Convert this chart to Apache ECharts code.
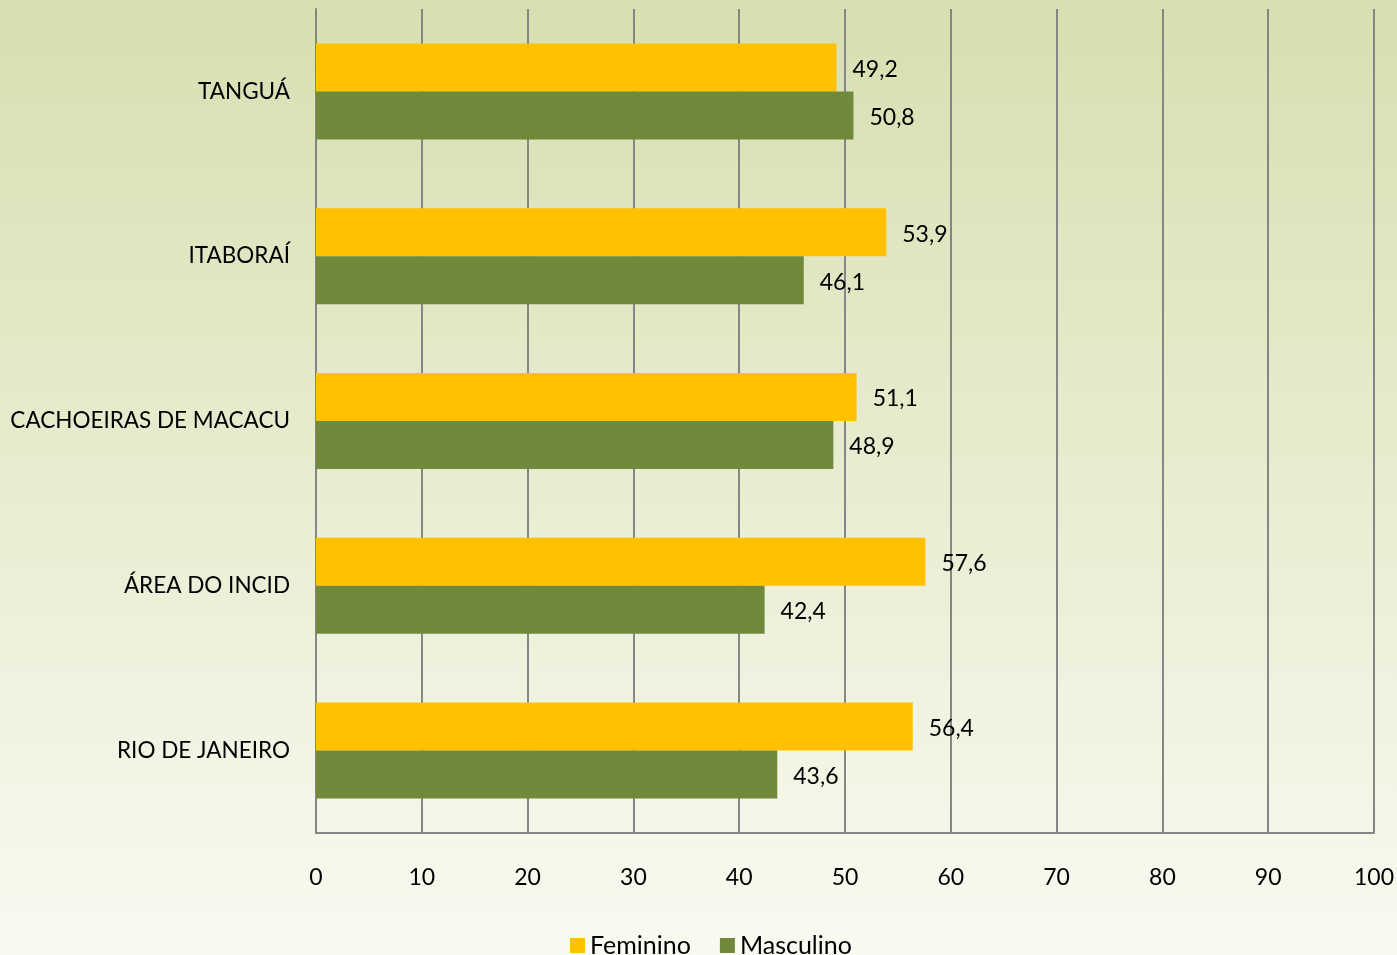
<!DOCTYPE html>
<html>
<head>
<meta charset="utf-8">
<script src="https://cdn.jsdelivr.net/npm/echarts@6/dist/echarts.min.js"></script>
<style>
  html, body { margin: 0; padding: 0; }
  #chart { width: 1397px; height: 955px; }
</style>
</head>
<body>
<div id="chart"></div>
<script>
const categories = ["TANGUÁ", "ITABORAÍ", "CACHOEIRAS DE MACACU", "ÁREA DO INCID", "RIO DE JANEIRO"];
const feminino = [49.2, 53.9, 51.1, 57.6, 56.4];
const masculino = [50.8, 46.1, 48.9, 42.4, 43.6];
const xTicks = [0, 100, 10]; // min, max, interval

const myChart = echarts.init(document.getElementById("chart"));
const fontFamily = "Lato, 'Open Sans', sans-serif";
const labelFmt = p => String(p.value).replace(".", ",");

let option = {
  backgroundColor: new echarts.graphic.LinearGradient(0, 0, 0, 1, [
    { offset: 0, color: "#d7dfb0" },
    { offset: 1, color: "#f9faf1" }
  ]),
  textStyle: { fontFamily: fontFamily },
  grid: { left: 316, right: 23, top: 9, bottom: 122 },
  legend: {
    top: 928,
    left: 565,
    itemWidth: 15,
    itemHeight: 15,
    itemGap: 29,
    icon: "rect",
    textStyle: { fontFamily: fontFamily, fontSize: 25, color: "#000" },
    data: ["Feminino", "Masculino"]
  },
  xAxis: {
    type: "value",
    min: xTicks[0],
    max: xTicks[1],
    interval: xTicks[2],
    axisLine: { show: true, lineStyle: { color: "#868686", width: 2 } },
    axisTick: { show: false },
    splitLine: { show: true, lineStyle: { color: "#868686", width: 2 } },
    axisLabel: { color: "#000", fontSize: 23, margin: 33, fontFamily: fontFamily }
  },
  yAxis: {
    type: "category",
    inverse: true,
    data: categories,
    axisLine: { show: true, lineStyle: { color: "#868686", width: 2 } },
    axisTick: { show: false },
    axisLabel: { color: "#000", fontSize: 22.5, margin: 26, fontFamily: fontFamily }
  },
  series: [
    {
      name: "Feminino",
      type: "bar",
      data: feminino,
      barWidth: 48,
      barGap: "0%",
      itemStyle: { color: "#ffc000" },
      label: { show: true, position: "right", distance: 16, offset: [0, 2], color: "#000", fontSize: 23, formatter: labelFmt }
    },
    {
      name: "Masculino",
      type: "bar",
      data: masculino,
      barWidth: 48,
      barGap: "0%",
      itemStyle: { color: "#70893a" },
      label: { show: true, position: "right", distance: 16, offset: [0, 2], color: "#000", fontSize: 23, formatter: labelFmt }
    }
  ]
};
myChart.setOption(option);
</script>
</body>
</html>
